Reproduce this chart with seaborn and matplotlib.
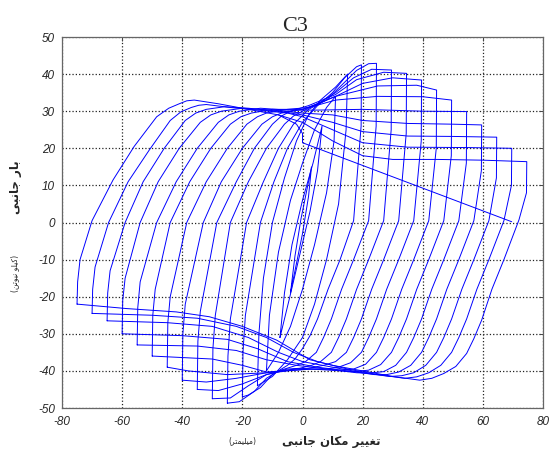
import pandas as pd
import matplotlib
matplotlib.use("Agg")
import matplotlib.pyplot as plt
import seaborn as sns

# hysteresis loops: (displacement mm, load kN)
# each loop starts at its negative peak, goes up to the positive peak and back
loop_75 = [(-75, -22), (-74.8, -16), (-74, -10), (-70, 0.5), (-63, 11.5), (-56, 20.5), (-48.5, 28.5),
           (-44.5, 30.8), (-41, 32), (-38.5, 32.8), (-36, 33), (-28, 32), (-18, 30.5), (-8, 29), (0, 27),
           (10, 22), (20, 18), (30, 17), (45, 17), (60, 16.8), (74.6, 16.4),
           (74.5, 8), (72, 0.7), (67, -10), (63, -18), (59.6, -26.3), (57, -31.3), (54.6, -35.3),
           (51, -38.8), (47, -40.7), (43, -42), (39, -42.5), (30, -41.5), (20, -40), (10, -38.5),
           (2.5, -37), (-8.6, -31.7), (-20, -28), (-31, -25.4), (-42, -24.1), (-58.5, -23.2), (-75, -22)]
loop_70 = [(-70, -24.5), (-69.8, -18), (-69, -12), (-64.5, 0), (-58, 11), (-51, 19.5), (-44, 27.5),
           (-40.5, 29.8), (-37, 31), (-34.5, 31.6), (-32, 31.8), (-24, 31), (-15, 30.3), (-5, 29.5),
           (0, 28.5), (10, 25), (20, 21.5), (35, 20.3), (55, 20.2), (69.6, 20),
           (69.5, 10), (67, 0.5), (62, -10), (58, -18), (54.6, -26), (52, -31), (49.6, -35), (46, -38.5),
           (42, -40.5), (38, -41.6), (34, -42), (25, -41), (15, -39.5), (5, -37.5), (-3, -35), (-12, -31),
           (-22, -28), (-35, -25.8), (-50, -25), (-70, -24.5)]
loop_65 = [(-65, -26.5), (-64.8, -19), (-64, -13), (-59, 0), (-53, 11), (-46, 20), (-39, 27.5),
           (-35.5, 29.5), (-32, 30.5), (-26, 31.2), (-18, 30.8), (-8, 30), (0, 29), (10, 27), (20, 24.5),
           (35, 23.3), (50, 23.2), (64.6, 23),
           (64.5, 12), (62, 0.5), (57, -10), (53, -18), (49.6, -26), (47, -31), (44.6, -35), (41, -38.5),
           (37, -40.5), (33, -41.3), (29, -41.5), (20, -40.5), (10, -39), (0, -37.5), (-8, -35),
           (-18, -31), (-30, -28), (-45, -27), (-65, -26.5)]
loop_60 = [(-60, -30), (-59.8, -21), (-59, -15), (-54, 0), (-48, 11), (-41, 20), (-34, 27), (-30.5, 29),
           (-27, 30), (-20, 30.8), (-10, 30.3), (0, 29.5), (10, 29), (20, 27.5), (35, 26.7), (50, 26.5),
           (59.6, 26.3),
           (59.5, 14), (57, 0.5), (52, -10), (48, -18), (44.6, -26), (42, -31), (39.6, -35), (36, -38.5),
           (32, -40.3), (28, -41), (24, -41), (15, -40), (5, -39), (-5, -37.5), (-15, -34), (-25, -31.5),
           (-40, -30.5), (-60, -30)]
loop_55 = [(-55, -33), (-54.8, -23), (-54, -16), (-48.5, 0), (-42, 11), (-35, 20), (-28, 27),
           (-24.5, 29), (-21, 30), (-14, 30.8), (-5, 30.3), (5, 30.3), (20, 30.5), (40, 30), (54.6, 29.9),
           (54.5, 16), (52, 0.5), (47, -10), (43, -18), (39.6, -26), (37, -31), (34.6, -35), (31, -38.5),
           (27, -40.2), (22, -40.6), (18, -40.5), (8, -39.5), (-2, -38.5), (-12, -37), (-22, -34.5),
           (-35, -33.3), (-55, -33)]
loop_50 = [(-50, -36), (-49.8, -25), (-49, -18), (-44, 0), (-37.5, 11), (-30.5, 20), (-24, 26.5),
           (-20.5, 28.5), (-17, 29.5), (-10, 30.5), (0, 30.5), (11, 33), (25, 34), (40, 33.9), (49.6, 33),
           (49.5, 18), (47, 0.5), (42, -10), (38, -18), (34.6, -26), (32, -31), (29.6, -35), (26, -38.3),
           (22, -39.8), (17, -40.2), (13, -40), (3, -39.5), (-12, -40.3), (-20, -38.5), (-30, -36.8),
           (-50, -36)]
loop_45 = [(-45, -39), (-44.8, -27), (-44, -20), (-38.5, 0), (-32, 11), (-25, 20), (-18.5, 26.5),
           (-15, 28.5), (-12, 29.5), (-5, 30.5), (2, 31), (11, 34), (25, 36.8), (38, 37), (44.6, 35.7),
           (44.5, 20), (42, 0.5), (37, -10), (33, -18), (29.6, -26), (27, -31), (24.6, -35), (21, -38.2),
           (17, -39.5), (12, -39.8), (8, -39.5), (-2, -39.5), (-12, -40.5), (-25, -41), (-38, -40),
           (-45, -39)]
loop_40 = [(-40, -42.5), (-39.8, -30), (-39, -22), (-33, 0), (-27, 11), (-20, 20), (-13.5, 26.5),
           (-10, 28.5), (-7, 29.5), (0, 30.5), (5, 32), (11, 34), (20, 37.5), (30, 39), (39.6, 38.4),
           (39.5, 22), (37, 0.5), (32, -10), (28, -18), (24.6, -26), (22, -31), (19.6, -35), (16, -37.8),
           (12, -39), (7, -39.6), (2, -39.5), (-12, -40.5), (-22, -42), (-32, -43), (-40, -42.5)]
loop_35 = [(-35, -45), (-34.8, -32), (-34, -24), (-28.5, 0), (-22, 11), (-16, 20), (-10, 26.5),
           (-7, 28.7), (-4, 30), (2, 31.5), (11, 34.5), (18, 38.5), (27, 40.5), (34.6, 40.2),
           (34.5, 24), (32, 0.5), (27, -10), (23, -18), (19.6, -26), (17, -31), (14.6, -35), (11, -37.5),
           (7, -38.5), (2, -39.3), (-3, -39.5), (-12, -41), (-20, -43.5), (-28, -45.3), (-35, -45)]
loop_30 = [(-30, -47.5), (-29.8, -34), (-29, -25), (-24, 0), (-18, 11), (-12, 20), (-6, 26.5),
           (-3, 28.7), (0, 30), (5, 32), (11, 35), (17, 39), (23, 41.3), (29.6, 41.1),
           (29.5, 25), (27, 0.5), (22, -10), (18, -18), (14.6, -26), (12, -31), (9.6, -35), (6, -37.5),
           (3, -38.5), (-1, -39.3), (-5, -39.5), (-12, -41), (-18, -44), (-24, -47.3), (-30, -47.5)]
loop_25 = [(-25, -48.7), (-24.8, -36), (-24, -26), (-18.6, 0), (-13, 11), (-8, 20), (-3, 26.5),
           (0, 28.8), (2, 30.5), (8, 33), (13, 37), (18, 41), (22, 42.8), (24.6, 42.9),
           (24.5, 26), (22, 0.5), (17, -10), (13, -18), (9.6, -26), (7, -31), (4.6, -35), (1, -37.5),
           (-2, -38.5), (-8, -40), (-12, -42), (-16, -45.5), (-21, -48.3), (-25, -48.7)]
loop_20 = [(-20, -47), (-19.8, -35), (-19, -25), (-14, 0), (-9.5, 11), (-5, 20), (0, 27), (5, 31.5),
           (10, 35), (14, 39), (18, 42), (19.6, 42.5),
           (19.5, 26), (17, 0.5), (12.5, -10), (8.5, -18), (5, -26), (2.5, -30.5), (0, -34),
           (-2.5, -36.8), (-5, -38.5), (-10, -41), (-14, -44.5), (-18, -46.5), (-20, -47)]
loop_15 = [(-15, -44), (-14.5, -30), (-13, -15), (-10, 0), (-6, 12), (-2, 22), (2, 29), (6, 33),
           (11, 36.5), (15, 40),
           (14.5, 25), (12, 5), (8, -10), (4, -22), (0, -31), (-5, -37), (-10, -41.5), (-15, -44)]
loop_10 = [(-12, -40), (-11, -25), (-8, -8), (-4, 6), (0, 16), (4, 25), (8, 31), (11, 34),
           (10.5, 22), (8, 8), (4, -6), (0, -18), (-4, -28), (-8, -35), (-12, -40)]
loop_5 = [(-7.5, -31), (-6, -19), (-3.5, -6), (0, 6), (3.5, 16), (6.5, 26),
          (5, 14), (2.5, 3), (-1, -9), (-4.5, -21), (-7.5, -31)]
loop_2 = [(-4, -19), (-2.5, -9), (-0.5, 1), (1.5, 9), (3, 15),
          (2, 7), (0, -3), (-2, -11), (-4, -19)]
final_push = [(-8, 29), (-2, 26.5), (0, 24), (0, 21.5), (69.6, 0.2)]

loops = [loop_2, loop_5, loop_10, loop_15, loop_20, loop_25, loop_30, loop_35, loop_40,
         loop_45, loop_50, loop_55, loop_60, loop_65, loop_70, loop_75, final_push]

x_ticks = [-80, -60, -40, -20, 0, 20, 40, 60, 80]
y_ticks = [-50, -40, -30, -20, -10, 0, 10, 20, 30, 40, 50]

title = "C3"
# Persian labels in presentation forms, visual order (matplotlib has no shaping)
x_label = "\uFBFD\uFE92\uFEE7\uFE8E\uFE9F \uFEE5\uFE8E\uFB91\uFEE3 \uFEAE\uFBFF\uFBFF\uFED0\uFE97"
x_unit = "(\uFEAE\uFE98\uFEE4\uFBFF\uFEE0\uFBFF\uFEE3)"
y_label = "\uFBFD\uFE92\uFEE7\uFE8E\uFE9F \uFEAD\uFE8E\uFE91"
y_unit = "(\uFEE6\uFE97\uFEEE\uFBFF\uFEE7 \uFEEE\uFEE0\uFBFF\uFB90)"

rows = []
for i, pts in enumerate(loops):
    for d, f in pts:
        rows.append({"cycle": i, "disp": d, "load": f})
df = pd.DataFrame(rows)

sns.set_style("white")
plt.rcParams["font.family"] = ["Liberation Sans", "DejaVu Sans"]

fig = plt.figure(figsize=(5.5, 4.61), dpi=100)
ax = fig.add_axes([62 / 550, 1 - 408 / 461, 481 / 550, 371 / 461])

sns.lineplot(data=df, x="disp", y="load", units="cycle", estimator=None, sort=False,
             color="#0000ff", linewidth=0.7, ax=ax, legend=False)

ax.set_xlim(-80, 80)
ax.set_ylim(-50, 50)
ax.set_xticks(x_ticks, labels=[str(v) for v in x_ticks], fontstyle="italic", fontsize=8.5)
ax.set_yticks(y_ticks, labels=[str(v) for v in y_ticks], fontstyle="italic", fontsize=8.5)
ax.tick_params(direction="in", length=3, top=True, right=True, width=0.7, color="#444")
ax.tick_params(axis="x", pad=6)
ax.tick_params(axis="y", pad=5)
ax.grid(True, linestyle=":", color="#222222", linewidth=0.9)
for s in ax.spines.values():
    s.set_color("#666666")
    s.set_linewidth(0.9)
ax.set_xlabel("")
ax.set_ylabel("")

fig.text(295 / 550, 1 - 31 / 461, title, family="Liberation Serif", fontsize=16,
         ha="center", va="baseline")
fig.text(331 / 550, 1 - 441 / 461, x_label, family="DejaVu Sans", fontweight="bold",
         fontsize=8.5, ha="center", va="center")
fig.text(242 / 550, 1 - 441 / 461, x_unit, family="DejaVu Sans", fontsize=5.5,
         ha="center", va="center")
fig.text(15 / 550, 1 - 187 / 461, y_label, family="DejaVu Sans", fontweight="bold",
         fontsize=8.5, ha="center", va="center", rotation=90)
fig.text(15 / 550, 1 - 273 / 461, y_unit, family="DejaVu Sans", fontsize=5.5,
         ha="center", va="center", rotation=90)

fig.savefig("out.png", dpi=100)
plt.close()
